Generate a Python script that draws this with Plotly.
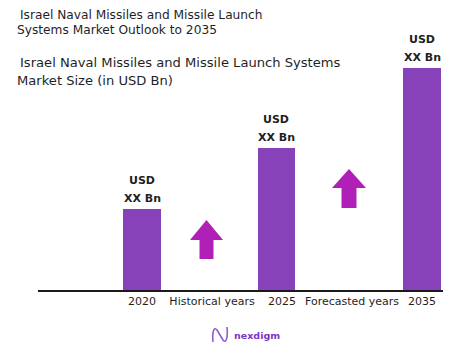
import plotly.graph_objects as go

# ---- data ----
categories = ["2020", "Historical years", "2025", "Forecasted years", "2035"]
bar_values = [8.1, None, 14.2, None, 22.2]
value_labels = ["XX Bn", None, "XX Bn", None, "XX Bn"]
currency_labels = ["USD", None, "USD", None, "USD"]

title_lines = ["Israel Naval Missiles and Missile Launch", "Systems Market Outlook to 2035"]
subtitle_lines = ["Israel Naval Missiles and Missile Launch Systems", "Market Size (in USD Bn)"]
brand = "nexdigm"

# ---- layout geometry ----
W, H = 457, 357
L, R, T, B = 38, 14, 30, 67
PW, PH = W - L - R, H - T - B
BOTTOM = H - B

def px(x):
    return (x - L) / PW

def py(y):
    return (BOTTOM - y) / PH

BAR_COLOR = "#8741B9"
ARROW_COLOR = "#B020B6"
TEXT_COLOR = "#1f1f1f"
FONT = "DejaVu Sans, Arial, sans-serif"
BAR_WIDTH = 0.54
# small horizontal nudge of the middle bar (as in the reference layout)
bar_offsets = [-BAR_WIDTH / 2, 0, -BAR_WIDTH / 2 - 0.08, 0, -BAR_WIDTH / 2]

fig = go.Figure()
fig.add_trace(go.Bar(
    x=categories,
    y=bar_values,
    marker=dict(color=BAR_COLOR, line=dict(width=0)),
    width=BAR_WIDTH,
    offset=bar_offsets,
    hoverinfo="skip",
))

annotations = []
unit_px = PW / 5.786
for idx, (v, cur, lab, off) in enumerate(zip(bar_values, currency_labels, value_labels, bar_offsets)):
    if v is None:
        continue
    dx = (off + BAR_WIDTH / 2) * unit_px
    annotations.append(dict(x=idx, y=v, xref="x", yref="y", text=f"<b>{lab}</b>",
                            showarrow=False, yshift=11, xshift=dx, yanchor="middle",
                            font=dict(family=FONT, size=11, color=TEXT_COLOR)))
    annotations.append(dict(x=idx, y=v, xref="x", yref="y", text=f"<b>{cur}</b>",
                            showarrow=False, yshift=29, xshift=dx, yanchor="middle",
                            font=dict(family=FONT, size=11, color=TEXT_COLOR)))

# titles
for i, (line, ypx) in enumerate(zip(title_lines, [15, 30])):
    annotations.append(dict(x=px(18 if i == 0 else 15), y=py(ypx), xref="paper", yref="paper",
                            text=line, showarrow=False, xanchor="left", yanchor="middle",
                            font=dict(family=FONT, size=12.2, color=TEXT_COLOR)))
for i, (line, ypx) in enumerate(zip(subtitle_lines, [62, 80])):
    annotations.append(dict(x=px(18 if i == 0 else 15), y=py(ypx), xref="paper", yref="paper",
                            text=line, showarrow=False, xanchor="left", yanchor="middle",
                            font=dict(family=FONT, size=13.1, color=TEXT_COLOR)))

# brand text
annotations.append(dict(x=px(232), y=py(335), xref="paper", yref="paper",
                        text=f"<b>{brand}</b>", showarrow=False, xanchor="left", yanchor="middle",
                        font=dict(family=FONT, size=9.5, color="#7B35C4")))

def arrow_path(cx, top, bottom, head_half, shaft_half, head_base):
    pts = [(cx - shaft_half, bottom), (cx - shaft_half, head_base), (cx - head_half, head_base),
           (cx, top), (cx + head_half, head_base), (cx + shaft_half, head_base),
           (cx + shaft_half, bottom)]
    return "M " + " L ".join(f"{px(a):.4f},{py(b):.4f}" for a, b in pts) + " Z"

shapes = [
    dict(type="path", xref="paper", yref="paper",
         path=arrow_path(206.5, 220, 259, 16.5, 7, 240),
         fillcolor=ARROW_COLOR, line=dict(width=0)),
    dict(type="path", xref="paper", yref="paper",
         path=arrow_path(349, 169, 208, 17, 7.5, 188),
         fillcolor=ARROW_COLOR, line=dict(width=0)),
    # logo icon
    dict(type="path", xref="paper", yref="paper",
         path=(f"M {px(213):.4f},{py(342):.4f} C {px(212):.4f},{py(332):.4f} {px(214):.4f},{py(326):.4f} {px(217):.4f},{py(330):.4f} "
               f"L {px(223):.4f},{py(340):.4f} C {px(226):.4f},{py(344):.4f} {px(228):.4f},{py(338):.4f} {px(227):.4f},{py(327):.4f}"),
         line=dict(color="#8E5BD6", width=1.6)),
]

fig.update_layout(
    width=W, height=H,
    margin=dict(l=L, r=R, t=T, b=B),
    paper_bgcolor="white", plot_bgcolor="white",
    showlegend=False,
    bargap=0,
    annotations=annotations,
    shapes=shapes,
    xaxis=dict(type="category", range=[-1.486, 4.3], showline=True, linecolor="#1a1a1a",
               linewidth=1.6, showgrid=False, zeroline=False, ticks="",
               tickfont=dict(family=FONT, size=11, color=TEXT_COLOR)),
    yaxis=dict(range=[0, 26], visible=False, showgrid=False, zeroline=False),
)

fig.write_html("out.html", config={"displayModeBar": False},
               post_script="document.body.style.margin='0';document.body.style.padding='0';")
